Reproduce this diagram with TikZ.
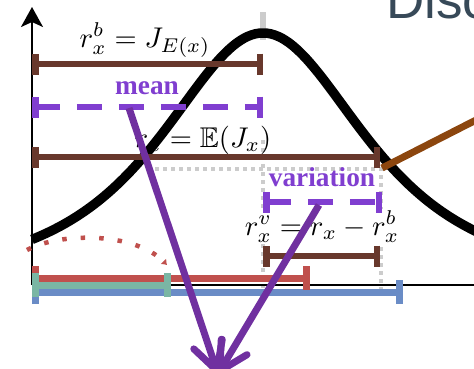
\documentclass[tikz,border=0pt]{standalone}
\usepackage{amssymb}
\usepackage{graphicx}
\usepackage{fontspec}
\newfontfamily\titolo{Liberation Sans}
\newfontfamily\etichette{Liberation Serif}
\usetikzlibrary{arrows.meta}
\definecolor{marrone}{RGB}{104,56,44}
\definecolor{viola}{RGB}{128,62,208}
\definecolor{violaScuro}{RGB}{112,48,160}
\definecolor{ruggine}{RGB}{140,70,14}
\definecolor{rosso}{RGB}{192,80,77}
\definecolor{verdeAcqua}{RGB}{122,182,164}
\definecolor{azzurro}{RGB}{106,140,198}
\definecolor{grigioChiaro}{RGB}{204,204,204}
\definecolor{ardesia}{RGB}{55,73,88}
% Formule ingrandite dal corpo 10pt.
\newcommand{\grande}[1]{\scalebox{2.85}{$#1$}}

\begin{document}
\begin{tikzpicture}[x=1pt,y=-1pt,
  barra/.style={line width=6.5pt,arrows={Bar[width=21pt]-Bar[width=21pt]}},
  barraBassa/.style={line width=7pt,arrows={Bar[width=24pt]-Bar[width=24pt]}},
  tratteggio/.style={barra,color=viola,dash pattern=on 25pt off 17pt,dash phase=2pt},
  puntini/.style={grigioChiaro,line width=4.5pt,dash pattern=on 4pt off 4pt},
  formula/.style={inner sep=0pt,anchor=base},
  etichetta/.style={font=\etichette\bfseries\fontsize{27.3}{30}\selectfont,
    text=viola,inner sep=0pt,anchor=base},
  freccia/.style={violaScuro,line width=7pt,
    -{Straight Barb[length=28pt,width=30pt,round]}}]
  \fill[white] (0,0) rectangle (474,368);
  \useasboundingbox (0,0) rectangle (474,368);
  \clip (0,0) rectangle (474,368);
  % Titolo della slide, tagliato dal bordo.
  \node[font=\titolo\fontsize{53}{56}\selectfont,text=ardesia,anchor=base west,
    inner sep=0pt] (titolo) at (386,18) {Disc};
  % Guide grigie verso l'asse.
  \draw[grigioChiaro,line width=6pt] (263,12) -- (263,40);
  \draw[puntini] (263,140) -- (263,290);
  \draw[puntini] (155,169) -- (381,169) -- (381,290);
  % Testi delle formule.
  \node[formula] (rb) at (145,47) {\grande{r_x^b = J_{E(x)}}};
  \node[etichetta] (mediaTesto) at (147,94) {mean};
  \node[formula] (rx) at (203,147) {\grande{r_x = \mathbb{E}(J_x)}};
  \node[etichetta] (variaTesto) at (322,186) {variation};
  \node[formula,fill=white,inner ysep=2pt] (rv) at (322,235) {\grande{r_x^v = r_x - r_x^b}};
  % Assi e densita'.
  \draw[line width=2pt] (32,285) -- (480,285);
  \draw[line width=2pt,-{Stealth[length=20pt,width=22pt,inset=5pt]}] (32,285) -- (32,7);
  \draw[line width=9.5pt] plot[domain=-2.0625:2.1,samples=120,smooth]
    ({263+112*\x},{285-252*(1+\x*\x/2)^(-1.5)});
  % Segmenti marroni: inizio / fine / altezza.
  \foreach \inizio/\fine/\y in {32/263/64, 32/380/157, 263/380/256}{
    \draw[barra,marrone] (\inizio,\y) -- (\fine,\y);
  }
  \draw[tratteggio] (32,107) -- (263,107);
  \draw[tratteggio] (263,202) -- (382,202);
  % Barre sull'asse, la verde sopra le altre.
  \draw[rosso,line width=4.5pt,dash pattern=on 4.5pt off 14pt,
    -{Latex[length=5pt,width=8pt]}] (27,250) .. controls (60,232) and (135,232) .. (167,265);
  \foreach \colore/\y/\fine in {azzurro/292/403, rosso/278/310, verdeAcqua/285/171}{
    \draw[barraBassa,\colore] (32,\y) -- (\fine,\y);
  }
  % Frecce viola e collegamento arancione.
  \coordinate (media) at (129,108);
  \coordinate (varia) at (319,205);
  \coordinate (punta) at (218,374);
  \coordinate (ancora) at (382,168);
  \coordinate (fuori) at (480,118);
  \draw[ruggine,line width=7pt] (ancora) -- (fuori);
  \draw[freccia] (media) -- (punta);
  \draw[freccia] (varia) -- (punta);
\end{tikzpicture}
\end{document}
